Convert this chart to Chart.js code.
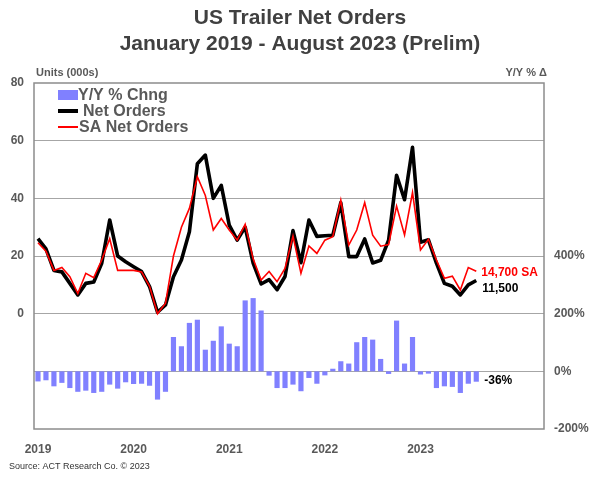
<!DOCTYPE html>
<html><head><meta charset="utf-8">
<style>html,body{margin:0;padding:0;background:#fff;}#wrap{width:600px;height:479px;}</style>
<script src="https://cdn.jsdelivr.net/npm/chart.js@4/dist/chart.umd.min.js"></script>
</head><body><div id="wrap"><canvas id="c" width="600" height="479"></canvas></div>
<script>
// ---- DATA ----
const years = [2019, 2020, 2021, 2022, 2023, 2024];
const yearTicks = ['2019', '2020', '2021', '2022', '2023'];
const monthNames = ['Jan','Feb','Mar','Apr','May','Jun','Jul','Aug','Sep','Oct','Nov','Dec'];
const netOrders = [
  26, 22.5, 15, 14.5, 10.5, 6.5, 10.5, 11, 17.5, 32.5, 20, 18,
  16.3, 14.6, 9.4, 0.5, 3, 12.8, 18.6, 28.4, 52, 55, 40, 44.5,
  30.7, 25.5, 30, 17.5, 10.3, 11.8, 8.3, 12.9, 28.8, 17.7, 32.5, 26.8,
  27, 27.2, 38.5, 19.8, 19.8, 25.9, 17.6, 18.5, 25.5, 48, 39.5, 57.7,
  24.8, 25.6, 17.5, 10.5, 9.5, 6.5, 10, 11.5
];
const saNetOrders = [
  24.6, 21.7, 15, 16, 12.8, 7, 14, 12.5, 18.6, 26, 15, 15,
  15, 14.5, 9.5, 0, 3.6, 20, 30, 36.5, 47.5, 41, 29, 33,
  29, 25.5, 31, 19, 11.7, 14.6, 11.1, 15.7, 26.9, 14, 23.5, 20.9,
  25.5, 26.7, 39.4, 23.8, 29, 38.5, 27.2, 23.4, 24, 37.3, 27.3, 42,
  22.1, 25.8, 18.6, 12.3, 13, 8.2, 16, 14.7
];
const yoyChange = [
  -35, -31, -52, -40, -58, -71, -67, -75, -71, -46, -60, -38,
  -44, -43, -50, -98, -71, 119, 87, 168, 179, 75, 106, 156,
  96, 87, 246, 254, 211, -15, -58, -58, -46, -69, -23, -43,
  -14, 9, 35, 27, 101, 119, 110, 43, -9, 176, 27, 119,
  -11, -8, -58, -52, -54, -75, -43, -36
];
const titleLines = ['US Trailer Net Orders', 'January 2019 - August 2023 (Prelim)'];
const lastNetLabel = '11,500';
const lastSaLabel = '14,700 SA';
const lastYoyLabel = '-36%';

const labels = [];
years.forEach(y => monthNames.forEach(m => labels.push(m + ' ' + y)));
labels.length = 64;

const FONT = '"Liberation Sans", Arial, Helvetica, sans-serif';
const GRAY = '#595959';
const BAR = '#8080ff';

const decor = {
  id: 'decor',
  afterDraw(chart) {
    const ctx = chart.ctx, a = chart.chartArea;
    ctx.save();
    // plot border
    ctx.strokeStyle = '#8c8c8c';
    ctx.lineWidth = 1.5;
    ctx.strokeRect(a.left, a.top, a.right - a.left, a.bottom - a.top);
    // title
    ctx.fillStyle = '#404040';
    ctx.textAlign = 'center';
    ctx.textBaseline = 'middle';
    ctx.font = 'bold 21px ' + FONT;
    ctx.fillText(titleLines[0], 300, 18);
    ctx.fillText(titleLines[1], 300, 44);
    // axis titles
    ctx.fillStyle = GRAY;
    ctx.font = 'bold 11px ' + FONT;
    ctx.textAlign = 'left';
    ctx.fillText('Units (000s)', 36, 73);
    ctx.textAlign = 'right';
    ctx.fillText('Y/Y % \u0394', 547, 73);
    // legend
    ctx.textAlign = 'left';
    ctx.font = 'bold 16px ' + FONT;
    ctx.fillStyle = BAR;
    ctx.fillRect(58, 90, 20, 10);
    ctx.fillStyle = GRAY;
    ctx.fillText('Y/Y % Chng', 78, 96);
    ctx.strokeStyle = '#000';
    ctx.lineWidth = 4;
    ctx.beginPath(); ctx.moveTo(58, 111); ctx.lineTo(78, 111); ctx.stroke();
    ctx.fillText('Net Orders', 83, 112);
    ctx.strokeStyle = '#ff0000';
    ctx.lineWidth = 2;
    ctx.beginPath(); ctx.moveTo(58, 127); ctx.lineTo(78, 127); ctx.stroke();
    ctx.fillText('SA Net Orders', 79, 128);
    // end labels
    const xs = chart.scales.x, yl = chart.scales.yL, yr = chart.scales.yR;
    const li = netOrders.length - 1;
    const lx = xs.getPixelForValue(li) + 5;
    ctx.font = 'bold 12px ' + FONT;
    ctx.fillStyle = '#ff0000';
    ctx.fillText(lastSaLabel, lx, yl.getPixelForValue(saNetOrders[li]) + 1);
    ctx.fillStyle = '#000';
    ctx.fillText(lastNetLabel, lx + 1, yl.getPixelForValue(netOrders[li]) + 8);
    ctx.fillText(lastYoyLabel, lx + 3, yr.getPixelForValue(0) + 9);
    // source
    ctx.fillStyle = '#333';
    ctx.font = '9px ' + FONT;
    ctx.fillText('Source: ACT Research Co. \u00a9 2023', 9, 467);
    ctx.restore();
  }
};

new Chart(document.getElementById('c'), {
  data: {
    labels: labels,
    datasets: [
      { type: 'line', label: 'SA Net Orders', data: saNetOrders, yAxisID: 'yL',
        borderColor: '#ff0000', borderWidth: 1.6, pointRadius: 0, tension: 0, order: 1 },
      { type: 'line', label: 'Net Orders', data: netOrders, yAxisID: 'yL',
        borderColor: '#000000', borderWidth: 3.6, borderJoinStyle: 'round', pointRadius: 0, tension: 0, order: 2 },
      { type: 'bar', label: 'Y/Y % Chng', data: yoyChange, yAxisID: 'yR',
        backgroundColor: BAR, barPercentage: 0.65, categoryPercentage: 1, order: 3 }
    ]
  },
  options: {
    responsive: false,
    animation: false,
    events: [],
    layout: { padding: { top: 83, left: 0, right: 0, bottom: 0 } },
    plugins: { legend: { display: false }, tooltip: { enabled: false }, title: { display: false } },
    scales: {
      x: {
        type: 'category', offset: true,
        grid: { display: false }, border: { display: false },
        ticks: {
          autoSkip: false, maxRotation: 0, minRotation: 0, padding: 5,
          color: GRAY, font: { family: FONT, size: 12, weight: 'bold' },
          callback: (v, i) => (i % 12 === 0 && yearTicks[i / 12] ? yearTicks[i / 12] : '')
        },
        afterFit: s => { s.height = 50; }
      },
      yL: {
        position: 'left', min: -40, max: 80,
        border: { display: false },
        grid: { drawTicks: false, lineWidth: 1,
          color: c => (c.tick && (c.tick.value === -40 || c.tick.value === 80)) ? 'rgba(0,0,0,0)' : '#a6a6a6' },
        ticks: { stepSize: 20, padding: 10, color: GRAY, font: { family: FONT, size: 12, weight: 'bold' },
          callback: v => (v >= 0 ? v : '') },
        afterFit: s => { s.width = 34; }
      },
      yR: {
        position: 'right', min: -200, max: 1000,
        border: { display: false },
        grid: { display: false, drawTicks: false },
        ticks: { stepSize: 200, padding: 10, color: GRAY, font: { family: FONT, size: 12, weight: 'bold' },
          callback: v => (v <= 400 ? v + '%' : '') },
        afterFit: s => { s.width = 56; }
      }
    }
  },
  plugins: [decor]
});
</script>
</body></html>
